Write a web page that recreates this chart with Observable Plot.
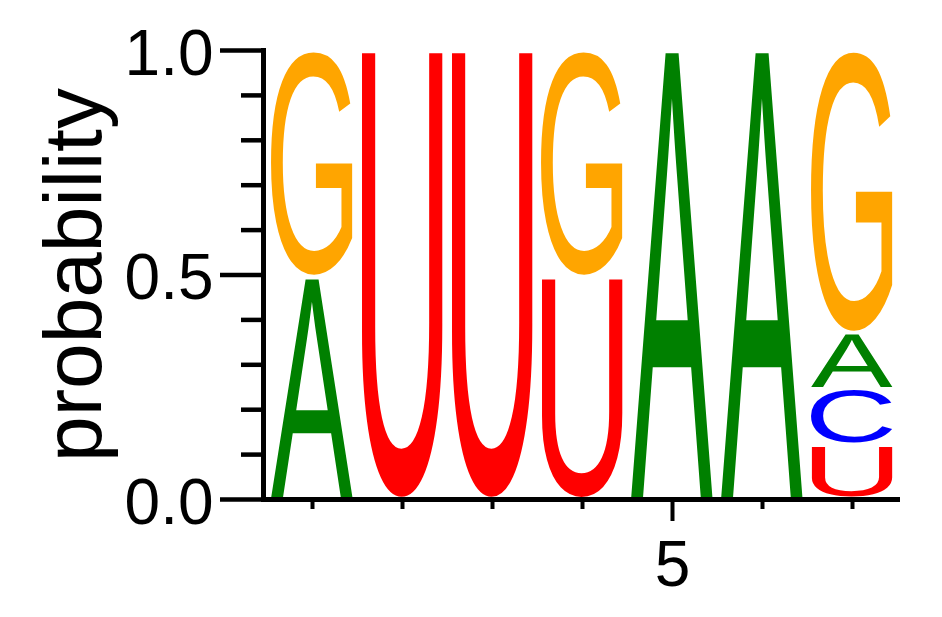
<!DOCTYPE html>
<html>
<head>
<meta charset="utf-8">
<script src="https://cdn.jsdelivr.net/npm/d3@7"></script>
<script src="https://cdn.jsdelivr.net/npm/@observablehq/plot@0.6"></script>
<style>
  html, body { margin: 0; padding: 0; background: #fff; }
</style>
</head>
<body>
<div id="chart"></div>
<script>
// ---- data ----
const positions = [1, 2, 3, 4, 5, 6, 7];
const bases = ["U", "C", "A", "G"]; // tie-break order, bottom to top
const probA = [0.495, 0, 0, 0, 1, 1, 0.125];
const probC = [0, 0, 0, 0, 0, 0, 0.125];
const probG = [0.505, 0, 0, 0.505, 0, 0, 0.63];
const probU = [0, 1, 1, 0.495, 0, 0, 0.12];
const baseColors = { A: "#008000", C: "#0000ff", G: "#ffa500", U: "#ff0000" };
const yMajorTicks = [0, 0.5, 1];
const yMinorTicks = [0.1, 0.2, 0.3, 0.4, 0.6, 0.7, 0.8, 0.9];
const xLabelTicks = [5];
const xMinorTicks = [1, 2, 3, 4, 6, 7];
const yLabel = "probability";

const probs = { A: probA, C: probC, G: probG, U: probU };
const rows = [];
positions.forEach((pos, i) => {
  const col = bases
    .map((b, k) => ({ pos, base: b, p: probs[b][i], k }))
    .filter(d => d.p > 0)
    .sort((a, b) => a.p - b.p || a.k - b.k);
  rows.push(...col);
});

const font = "'Liberation Sans', Arial, Helvetica, sans-serif";

const chart = Plot.plot({
  width: 942,
  height: 617,
  marginTop: 50,
  marginBottom: 118,
  marginLeft: 263,
  marginRight: 45,
  style: { fontFamily: font, background: "#fff", color: "#000" },
  x: { type: "band", domain: positions, paddingInner: 0.09, paddingOuter: 0.045, insetLeft: 4, label: null },
  y: { domain: [0, 1], label: null },
  color: { domain: Object.keys(baseColors), range: Object.values(baseColors) },
  marks: [
    Plot.barY(rows, Plot.stackY({ x: "pos", y: "p", fill: "base", title: "base", insetTop: 2, insetBottom: 2 })),
    Plot.frame({ anchor: "left", strokeWidth: 5, strokeLinecap: "square" }),
    Plot.frame({ anchor: "bottom", strokeWidth: 5, strokeLinecap: "square" }),
    Plot.axisY(yMinorTicks, { tickSize: 22, strokeWidth: 4.5, tickFormat: () => "" }),
    Plot.axisY(yMajorTicks, { tickSize: 43, strokeWidth: 4.5, tickFormat: () => "" }),
    Plot.text(yMajorTicks, { y: d => d, frameAnchor: "left", dx: -50, dy: 4, textAnchor: "end", text: d3.format(".1f"), fontSize: 64, fill: "#000" }),
    Plot.axisX(xMinorTicks, { tickSize: 10, strokeWidth: 4, tickFormat: () => "" }),
    Plot.axisX(xLabelTicks, { tickSize: 22, tickPadding: 19, strokeWidth: 4, fontSize: 64, fill: "#000" }),
    Plot.text([yLabel], { frameAnchor: "left", rotate: -90, textAnchor: "middle", lineAnchor: "bottom", dx: -163, fontSize: 82, fill: "#000" })
  ]
});

document.getElementById("chart").append(chart);

// drop the empty tick-label texts of the unlabeled ticks
chart.querySelectorAll("text").forEach(t => { if (t.textContent.trim() === "") t.remove(); });

// Replace each stacked bar by its letter glyph stretched to fill the bar
const canvas = document.createElement("canvas");
const ctx = canvas.getContext("2d");
ctx.font = "100px 'Liberation Sans'";
chart.querySelectorAll('g[aria-label="bar"] rect').forEach(rect => {
  const t = rect.querySelector("title");
  const letter = t ? t.textContent : "";
  const x = +rect.getAttribute("x"), y = +rect.getAttribute("y");
  const w = +rect.getAttribute("width"), h = +rect.getAttribute("height");
  const fill = rect.getAttribute("fill");
  const m = ctx.measureText(letter);
  const l = m.actualBoundingBoxLeft, r = m.actualBoundingBoxRight;
  const a = m.actualBoundingBoxAscent, d = m.actualBoundingBoxDescent;
  const text = document.createElementNS("http://www.w3.org/2000/svg", "text");
  text.textContent = letter;
  text.setAttribute("font-family", "Liberation Sans");
  text.setAttribute("font-size", "100");
  text.setAttribute("text-anchor", "start");
  text.setAttribute("fill", fill);
  text.setAttribute("transform", `translate(${x},${y}) scale(${w / (l + r)},${h / (a + d)}) translate(${l},${a})`);
  rect.replaceWith(text);
});
</script>
</body>
</html>
